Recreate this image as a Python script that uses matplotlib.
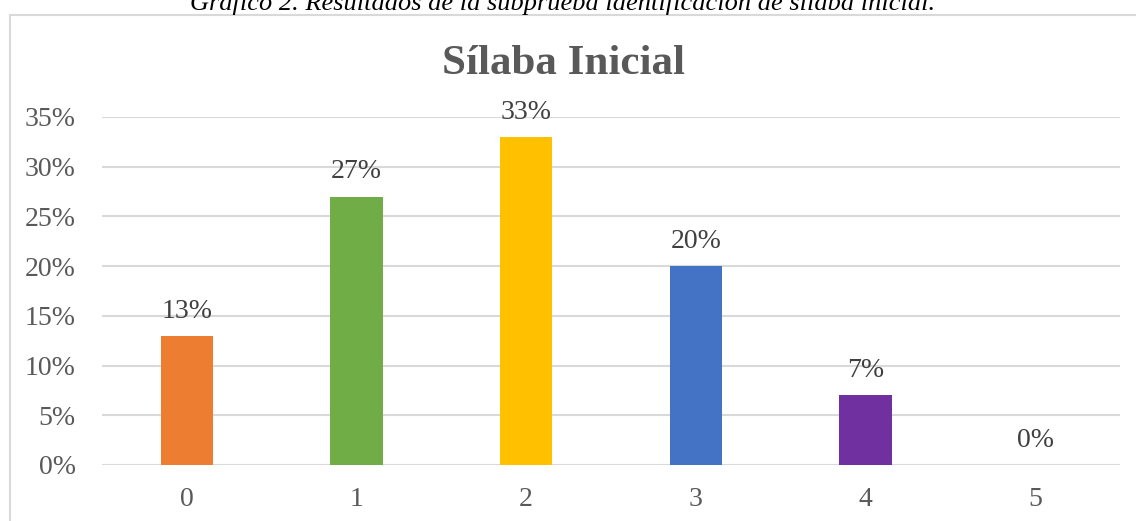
import matplotlib
matplotlib.use("Agg")
import matplotlib.pyplot as plt
from matplotlib.lines import Line2D

categories = ["0", "1", "2", "3", "4", "5"]
values = [13, 27, 33, 20, 7, 0]
colors = ["#ED7D31", "#70AD47", "#FFC000", "#4472C4", "#7030A0", "#A5A5A5"]
yticks = [0, 5, 10, 15, 20, 25, 30, 35]
title = "Sílaba Inicial"
caption = "Gráfico 2. Resultados de la subprueba identificación de sílaba inicial."

W, H = 1136, 521
fig = plt.figure(figsize=(W / 100, H / 100), dpi=100)
plt.rcParams['font.family'] = ['Liberation Serif', 'DejaVu Serif']

# outer chart border (left and top visible)
fig.add_artist(Line2D([9.5 / W, 9.5 / W], [0, 1 - 14.5 / H], transform=fig.transFigure,
                      color="#d9d9d9", lw=1.5))
fig.add_artist(Line2D([9.5 / W, 1], [1 - 14.5 / H, 1 - 14.5 / H], transform=fig.transFigure,
                      color="#d9d9d9", lw=1.5))

ax = fig.add_axes([102 / W, (H - 465) / H, (1120 - 102) / W, (465 - 117) / H])
x = list(range(len(categories)))
ax.bar(x, values, width=0.31, color=colors, zorder=3)
ax.set_xlim(-0.5, 5.5)
ax.set_ylim(0, 35)
ax.set_yticks(yticks)
ax.set_yticklabels([f"{v}%" for v in yticks])
ax.set_xticks(x)
ax.set_xticklabels(categories)
ax.grid(axis="y", color="#d9d9d9", lw=1.5, zorder=0)
ax.set_axisbelow(True)
for s in ax.spines.values():
    s.set_visible(False)
ax.tick_params(length=0, labelsize=20, colors="#595959")
ax.tick_params(axis="y", pad=19)
ax.tick_params(axis="x", pad=16)

for xi, v in zip(x, values):
    ax.annotate(f"{v}%", (xi, v), xytext=(0, 13), textcoords="offset points",
                ha="center", va="baseline", fontsize=20, color="#404040")

fig.text(564 / W, 1 - 74 / H, title, ha="center", va="baseline", fontsize=31,
         fontweight="bold", color="#595959")
fig.text(563 / W, 1 - 10 / H, caption, ha="center", va="baseline", fontsize=19,
         style="italic", color="black")

fig.savefig("out.png", dpi=100)
